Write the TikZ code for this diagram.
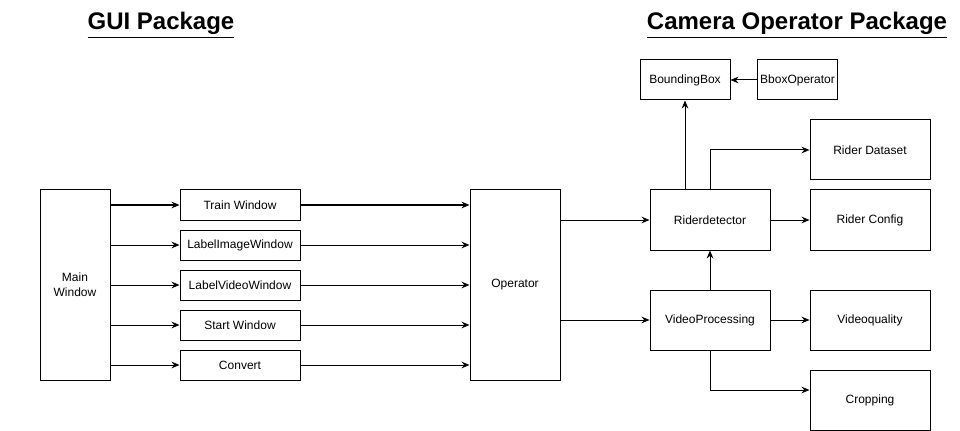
\documentclass[tikz,border=0pt]{standalone}
\usepackage{fontspec}
\setmainfont{Liberation Sans}
\usetikzlibrary{arrows.meta,positioning,calc}

\begin{document}
\begin{tikzpicture}[
    x=0.75pt, y=-0.75pt,
    blk/.style={draw, line width=0.75pt, inner sep=0pt, minimum width=90pt, minimum height=22.5pt, align=center, font=\fontsize{9}{11}\selectfont},
    arr/.style={-{Stealth[length=6pt, width=5pt, inset=2pt]}, line width=0.75pt},
    ttl/.style={font=\fontsize{18}{22}\selectfont\bfseries, inner sep=0pt}
]
\useasboundingbox (0,0) rectangle (960,431);

% titles
\node[ttl] (guittl) at (161,25) {\underline{GUI Package}};
\node[ttl] (camttl) at (797,25) {\underline{Camera Operator Package}};

% gui package
\node[blk, minimum width=52.5pt, minimum height=142.5pt] (main) at (75,285) {Main\\Window};
\node[blk] (train) at (240,205) {Train Window};
\node[blk] (limg) at (240,245) {LabelImageWindow};
\node[blk] (lvid) at (240,285) {LabelVideoWindow};
\node[blk] (start) at (240,325) {Start Window};
\node[blk] (conv) at (240,365) {Convert};
\node[blk, minimum width=67.5pt, minimum height=142.5pt] (oper) at (515,285) {Operator};

% camera operator package
\node[blk, minimum height=45pt] (rider) at (710,220) {Riderdetector};
\node[blk, minimum height=45pt] (vproc) at (710,320) {VideoProcessing};
\node[blk, minimum width=67.5pt, minimum height=30pt] (bbox) at (685,80) {BoundingBox};
\node[blk, minimum width=60pt, minimum height=30pt] (bop) at (797.5,80) {BboxOperator};
\node[blk, minimum height=45pt] (rdata) at (870,150) {Rider Dataset};
\node[blk, minimum height=45pt] (rconf) at (870,220) {Rider Config};
\node[blk, minimum height=45pt] (vq) at (870,320) {Videoquality};
\node[blk, minimum height=45pt] (crop) at (870,400) {Cropping};

\foreach \w in {train,limg,lvid,start,conv} {
  \draw[arr] (main.east |- \w) -- (\w);
  \draw[arr] (\w) -- (oper.west |- \w);
}

\draw[arr] (oper.east |- rider) -- (rider);
\draw[arr] (oper.east |- vproc) -- (vproc);
\draw[arr] (rider.north -| bbox) -- (bbox);
\draw[arr] (rider.north) |- (rdata);
\draw[arr] (rider) -- (rconf);
\draw[arr] (vproc) -- (rider);
\draw[arr] (vproc) -- (vq);
\draw[arr] (vproc.south) |- ([yshift=7.5pt]crop.west);
\draw[arr] (bop) -- (bbox);
\end{tikzpicture}
\end{document}
